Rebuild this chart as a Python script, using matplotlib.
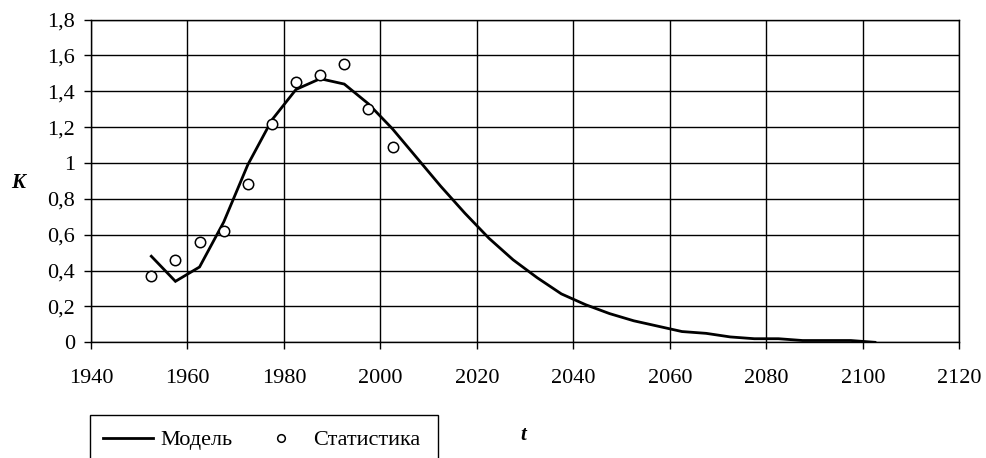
#!/usr/bin/env python3
"""
Draws the model curve K(t) against the statistics points
and saves it as out.png
"""

import matplotlib
matplotlib.use("Agg")
import matplotlib.patches as patches
import matplotlib.pyplot as plt
from matplotlib.lines import Line2D
from matplotlib.ticker import FuncFormatter

# model, every 5 years starting at 1952.5
model_years = [1952.5 + 5 * i for i in range(31)]
model_k = [0.48, 0.34, 0.42, 0.67, 0.99, 1.24, 1.41, 1.47, 1.44, 1.33,
           1.19, 1.03, 0.87, 0.72, 0.58, 0.46, 0.36, 0.27, 0.21, 0.16,
           0.12, 0.09, 0.06, 0.05, 0.03, 0.02, 0.02, 0.01, 0.01, 0.01,
           0.00]

# statistics
stat_years = [1952.5 + 5 * i for i in range(11)]
stat_k = [0.37, 0.46, 0.56, 0.62, 0.88, 1.22, 1.45, 1.49, 1.55, 1.30, 1.09]

x_ticks = list(range(1940, 2121, 20))
y_ticks = [0, 0.2, 0.4, 0.6, 0.8, 1.0, 1.2, 1.4, 1.6, 1.8]

legend_labels = ["Модель", "Статистика"]


def comma(v, pos):
    # 1.0 -> "1", 0.2 -> "0,2"
    s = "%g" % round(v, 2)
    return s.replace(".", ",")


def main():
    plt.rcParams["font.family"] = ["Liberation Serif", "DejaVu Serif"]

    fig = plt.figure(figsize=(9.87, 4.58), dpi=100)
    ax = fig.add_axes([0.0922, 0.2526, 0.8798, 0.7048])

    ax.plot(model_years, model_k, color="black", linewidth=2.0,
            solid_joinstyle="miter", zorder=3)
    ax.plot(stat_years, stat_k, linestyle="none", marker="o",
            markersize=7.5, markerfacecolor="white", markeredgecolor="black",
            markeredgewidth=1.1, zorder=4)

    ax.set_xlim(1940, 2120)
    ax.set_ylim(0, 1.8)
    ax.set_xticks(x_ticks)
    ax.set_yticks(y_ticks)
    ax.yaxis.set_major_formatter(FuncFormatter(comma))
    ax.grid(True, color="black", linewidth=1.0)
    ax.set_axisbelow(True)

    for s in ax.spines.values():
        s.set_color("black")
        s.set_linewidth(1.0)

    ax.tick_params(axis="both", direction="out", length=5, width=1.0,
                   colors="black", labelsize=16)
    ax.tick_params(axis="x", pad=14.5)
    ax.tick_params(axis="y", pad=6.5)

    # axis names
    fig.text(18 / 987, 1 - 183 / 458, "K", fontsize=15, fontweight="bold",
             fontstyle="italic", ha="center", va="center")
    fig.text(523 / 987, 1 - 435 / 458, "t", fontsize=15, fontweight="bold",
             fontstyle="italic", ha="center", va="center")

    # legend, the box runs off the bottom of the picture
    handles = [Line2D([], [], color="black", linewidth=2.0),
               Line2D([], [], linestyle="none", marker="o", markersize=5.5,
                      markerfacecolor="white", markeredgecolor="black",
                      markeredgewidth=1.1)]
    fig.legend(handles, legend_labels, ncol=2, frameon=False,
               loc="center left", bbox_to_anchor=(103 / 987, 1 - 440 / 458),
               fontsize=16, handlelength=2.25, handletextpad=0.32,
               columnspacing=1.05, borderaxespad=0, borderpad=0)
    box = patches.Rectangle((90 / 987, -0.05), (438 - 90) / 987,
                            0.05 + (458 - 415) / 458,
                            transform=fig.transFigure, fill=False,
                            edgecolor="black", linewidth=1.0)
    fig.patches.append(box)

    fig.savefig("out.png", dpi=100)


if __name__ == "__main__":
    main()
